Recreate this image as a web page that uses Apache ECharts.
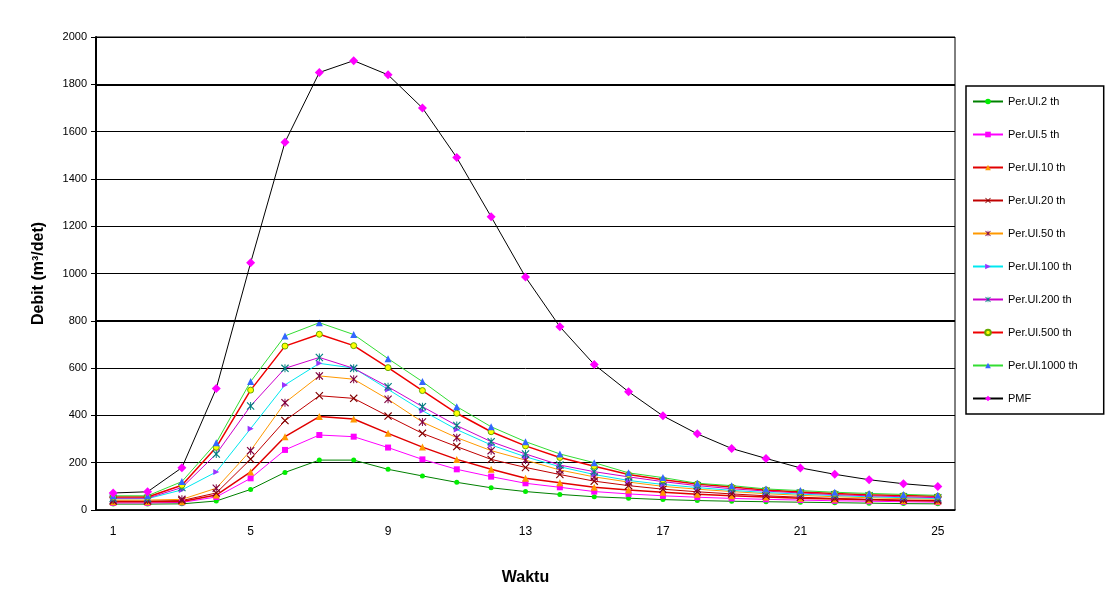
<!DOCTYPE html>
<html>
<head>
<meta charset="utf-8">
<script src="https://cdn.jsdelivr.net/npm/echarts@6/dist/echarts.min.js"></script>
<style>
  html, body { margin: 0; padding: 0; background: #fff; }
  #main { width: 1120px; height: 599px; }
</style>
</head>
<body>
<div id="main"></div>
<script>
  // waktu (jam)
  const waktu = ['1','2','3','4','5','6','7','8','9','10','11','12','13','14','15','16','17','18','19','20','21','22','23','24','25']

  const per2 = [25, 25, 26, 38, 87, 159, 211, 211, 172, 144, 117, 94, 78, 66, 56, 50, 44, 40, 37, 35, 33, 31, 29, 27, 26]
  const per5 = [30, 30, 32, 55, 134, 254, 317, 310, 264, 214, 172, 141, 113, 96, 78, 68, 60, 54, 49, 45, 42, 39, 37, 35, 33]
  const per10 = [35, 35, 36, 63, 161, 310, 395, 385, 324, 266, 214, 172, 134, 115, 96, 85, 75, 67, 60, 55, 50, 46, 43, 40, 38]
  const per20 = [38, 38, 40, 72, 215, 378, 483, 472, 397, 324, 268, 214, 180, 150, 122, 103, 88, 77, 68, 60, 54, 49, 45, 42, 40]
  const per50 = [42, 42, 45, 92, 251, 454, 567, 553, 468, 372, 306, 251, 211, 169, 140, 118, 100, 88, 78, 69, 62, 56, 52, 48, 45]
  const per100 = [48, 48, 85, 161, 344, 529, 620, 600, 510, 420, 340, 275, 225, 183, 150, 125, 108, 95, 83, 74, 67, 61, 56, 52, 49]
  const per200 = [50, 50, 95, 237, 440, 599, 645, 599, 521, 437, 357, 289, 237, 190, 162, 140, 120, 103, 90, 80, 72, 65, 60, 56, 52]
  const per500 = [55, 55, 105, 265, 507, 693, 743, 695, 602, 505, 409, 331, 271, 222, 185, 150, 128, 110, 97, 85, 76, 70, 65, 61, 58]
  const per1000 = [60, 60, 120, 284, 543, 736, 792, 742, 640, 543, 437, 352, 289, 237, 200, 157, 137, 113, 103, 89, 82, 75, 70, 66, 62]
  const pmf = [72, 77, 179, 514, 1045, 1555, 1850, 1900, 1840, 1700, 1490, 1240, 985, 775, 615, 500, 398, 322, 260, 218, 178, 151, 128, 111, 99]

  const xMark = 'path://M0,1L1,0L5,4L9,0L10,1L6,5L10,9L9,10L5,6L1,10L0,9L4,5Z'
  const starMark = 'path://M0,1L1,0L5,4L9,0L10,1L6,5L10,9L9,10L5,6L1,10L0,9L4,5Z M4.4,0L5.6,0L5.6,10L4.4,10Z'

  function line(name, data, lineColor, lineWidth, symbol, size, markColor, extra) {
    const s = {
      name: name,
      type: 'line',
      data: data,
      symbol: symbol,
      symbolSize: size,
      showAllSymbol: true,
      lineStyle: { color: lineColor, width: lineWidth },
      itemStyle: { color: markColor, borderWidth: 0 },
      emphasis: { disabled: true },
      animation: false
    }
    return Object.assign(s, extra || {})
  }

  const series = [
    line('Per.Ul.2 th', per2, '#008000', 1, 'circle', 5, '#00ee00'),
    line('Per.Ul.5 th', per5, '#ff00ff', 1, 'rect', 6, '#ff00ff'),
    line('Per.Ul.10 th', per10, '#e00000', 1.5, 'triangle', 7, '#ff9900'),
    line('Per.Ul.20 th', per20, '#c00000', 1, xMark, 8, '#800000'),
    line('Per.Ul.50 th', per50, '#ff9900', 1, starMark, 8, '#800040'),
    line('Per.Ul.100 th', per100, '#00e8f0', 1, 'triangle', 6, '#9933ff', { symbolRotate: -90 }),
    line('Per.Ul.200 th', per200, '#cc00cc', 1, starMark, 8, '#008080'),
    line('Per.Ul.500 th', per500, '#ee0000', 1.5, 'circle', 6, '#ffff00',
      { itemStyle: { color: '#ffff00', borderColor: '#66aa00', borderWidth: 1 } }),
    line('Per.Ul.1000 th', per1000, '#33dd33', 1, 'triangle', 7, '#3366ff'),
    line('PMF', pmf, '#000000', 1, 'diamond', 9, '#ff00ff', {
      markLine: {
        silent: true,
        symbol: 'none',
        label: { show: false },
        lineStyle: { color: '#000', width: 2, type: 'solid' },
        data: [{ yAxis: 800 }, { yAxis: 1800 }]
      }
    })
  ]

  const option = {
    backgroundColor: '#fff',
    textStyle: { fontFamily: 'Liberation Sans, Arial, sans-serif' },
    grid: {
      left: 96, right: 165, top: 37, bottom: 89,
      show: true, borderColor: '#000', borderWidth: 1
    },
    legend: {
      orient: 'vertical',
      left: 966,
      top: 86,
      padding: [10, 26, 10, 6],
      itemGap: 22,
      itemWidth: 30,
      itemHeight: 7,
      borderColor: '#000',
      borderWidth: 1.5,
      textStyle: { fontSize: 11, color: '#000' },
      data: series.map(s => s.name)
    },
    xAxis: {
      type: 'category',
      data: waktu,
      boundaryGap: true,
      name: 'Waktu',
      nameLocation: 'middle',
      nameGap: 60,
      nameTextStyle: { fontSize: 16, fontWeight: 'bold', color: '#000' },
      axisLine: { lineStyle: { color: '#000', width: 1.5 } },
      axisTick: { interval: 4, length: 5, lineStyle: { color: '#000' } },
      axisLabel: { interval: 3, fontSize: 12, color: '#000', margin: 16 },
      splitLine: { show: false }
    },
    yAxis: {
      type: 'value',
      min: 0,
      max: 2000,
      interval: 200,
      name: 'Debit (m³/det)',
      nameLocation: 'middle',
      nameGap: 49,
      nameTextStyle: { fontSize: 16, fontWeight: 'bold', color: '#000' },
      axisLine: { show: true, lineStyle: { color: '#000', width: 2 } },
      axisTick: { show: true, length: 5, lineStyle: { color: '#000' } },
      axisLabel: { fontSize: 11, color: '#000', margin: 9, formatter: v => String(v) },
      splitLine: { show: true, lineStyle: { color: '#000', width: 1 } }
    },
    series: series
  }

  const myChart = echarts.init(document.getElementById('main'))
  myChart.setOption(option)
</script>
</body>
</html>
